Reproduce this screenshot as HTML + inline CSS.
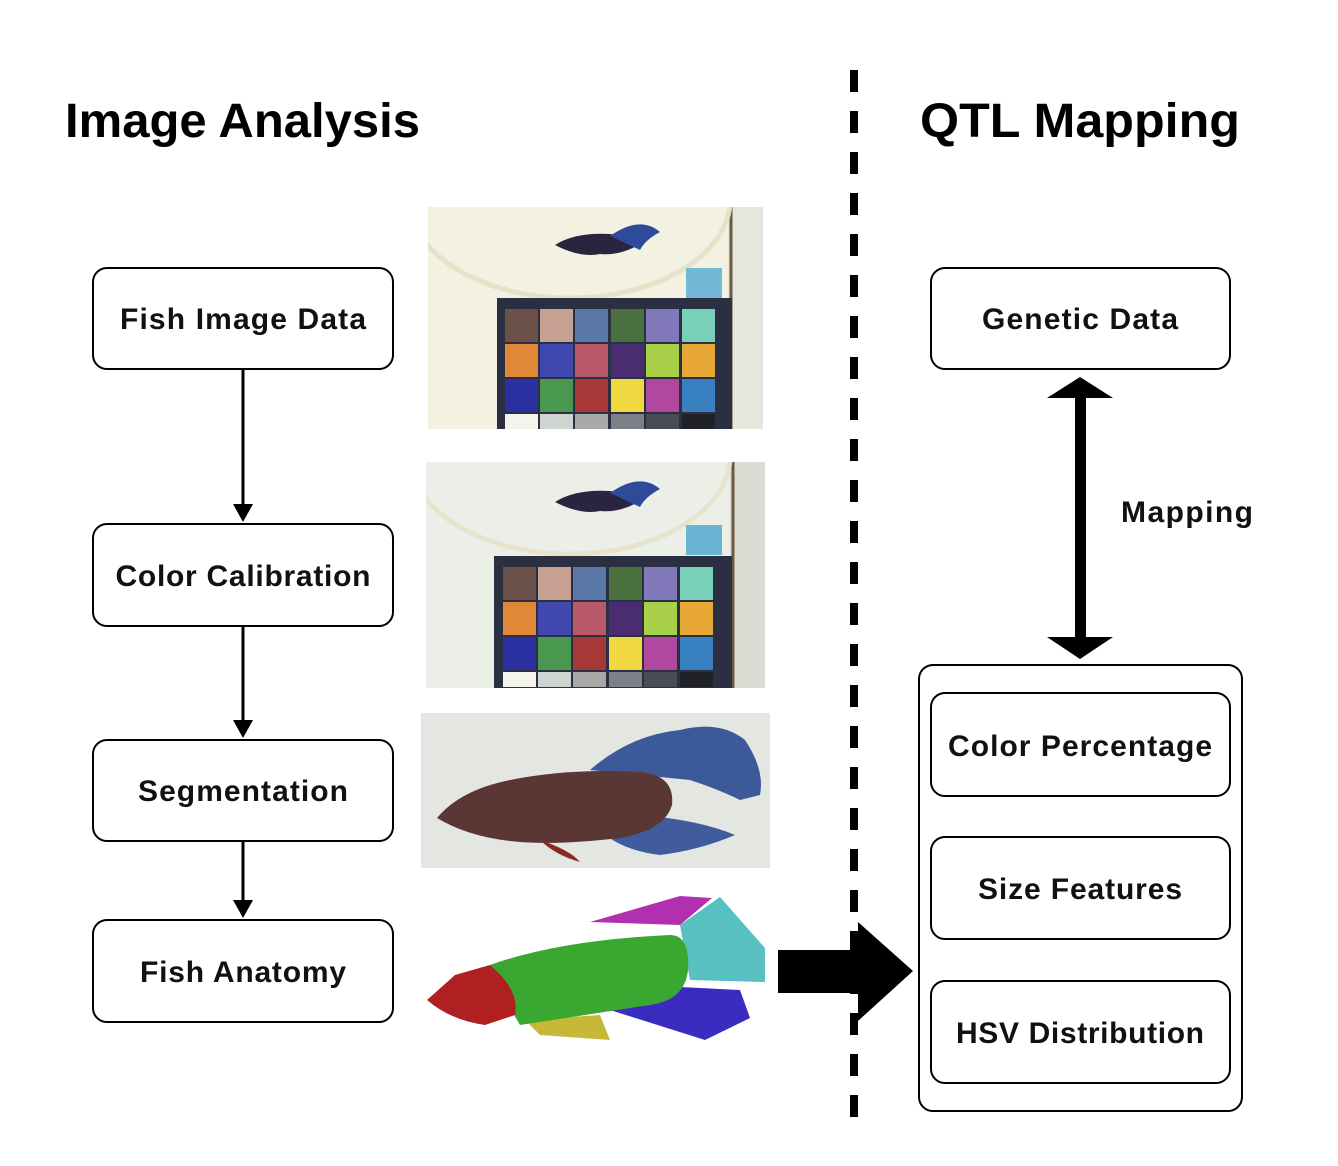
<!DOCTYPE html>
<html><head><meta charset="utf-8"><style>
html,body{margin:0;padding:0;background:#fff;}
svg{display:block}
text{font-family:"Liberation Sans",Arial,sans-serif;}
</style></head><body>
<svg width="1338" height="1166" viewBox="0 0 1338 1166" xmlns="http://www.w3.org/2000/svg">
<defs>
<clipPath id="c1"><rect x="428" y="207" width="335" height="222"/></clipPath>
<clipPath id="c2"><rect x="426" y="462" width="339" height="226"/></clipPath>
<clipPath id="c3"><rect x="421" y="713" width="349" height="155"/></clipPath>
</defs>
<rect width="1338" height="1166" fill="#fff"/>
<text x="65" y="137" font-size="48" font-weight="bold" fill="#000" textLength="355" lengthAdjust="spacingAndGlyphs">Image Analysis</text>
<text x="920" y="137" font-size="48" font-weight="bold" fill="#000" textLength="320" lengthAdjust="spacingAndGlyphs">QTL Mapping</text>
<line x1="854" y1="70" x2="854" y2="1135" stroke="#000" stroke-width="8" stroke-dasharray="22,19"/>

<g fill="#fff" stroke="#000" stroke-width="2">
<rect x="93" y="268" width="300" height="101" rx="14"/>
<rect x="93" y="524" width="300" height="102" rx="14"/>
<rect x="93" y="740" width="300" height="101" rx="14"/>
<rect x="93" y="920" width="300" height="102" rx="14"/>
<rect x="931" y="268" width="299" height="101" rx="14"/>
<rect x="919" y="665" width="323" height="446" rx="14"/>
<rect x="931" y="693" width="299" height="103" rx="14"/>
<rect x="931" y="837" width="299" height="102" rx="14"/>
<rect x="931" y="981" width="299" height="102" rx="14"/>
</g>
<g font-size="30" text-anchor="middle" fill="#111" font-weight="bold" lengthAdjust="spacingAndGlyphs">
<text x="243" y="329" textLength="246">Fish Image Data</text>
<text x="243" y="586" textLength="255">Color Calibration</text>
<text x="243" y="801" textLength="210">Segmentation</text>
<text x="243" y="982" textLength="206">Fish Anatomy</text>
<text x="1080" y="329" textLength="196">Genetic Data</text>
<text x="1080" y="756" textLength="264">Color Percentage</text>
<text x="1080" y="899" textLength="204">Size Features</text>
<text x="1080" y="1043" textLength="248">HSV Distribution</text>
<text x="1187" y="522" textLength="132">Mapping</text>
</g>

<g stroke="#000" stroke-width="3">
<line x1="243" y1="369" x2="243" y2="508"/>
<line x1="243" y1="626" x2="243" y2="724"/>
<line x1="243" y1="841" x2="243" y2="904"/>
</g>
<g fill="#000">
<polygon points="233,504 253,504 243,522"/>
<polygon points="233,720 253,720 243,738"/>
<polygon points="233,900 253,900 243,918"/>
</g>
<rect x="1075" y="396" width="11" height="244" fill="#000"/>
<polygon points="1080,377 1113,398 1047,398" fill="#000"/>
<polygon points="1080,659 1113,637 1047,637" fill="#000"/>
<polygon points="778,950 858,950 858,922 913,971 858,1021 858,993 778,993" fill="#000"/>

<g clip-path="url(#c1)">
<rect x="428" y="207" width="335" height="222" fill="#f2f1e2"/>
<rect x="728" y="207" width="35" height="222" fill="#e6e6dc"/>
<line x1="731" y1="207" x2="731" y2="429" stroke="#6a5a40" stroke-width="3"/>
<ellipse cx="570" cy="200" rx="160" ry="98" fill="none" stroke="#e6e2c8" stroke-width="5"/>
<rect x="686" y="268" width="36" height="30" fill="#74b8d8"/>
<rect x="497" y="298" width="235" height="131" fill="#2b2f42"/>
<path d="M555,245 Q575,232 610,234 Q630,236 640,244 Q620,256 600,254 Q580,258 555,245Z" fill="#2a2440"/>
<path d="M610,236 Q640,215 660,232 Q645,240 640,250 Z" fill="#2e4a9a"/>
</g>
<g clip-path="url(#c2)">
<rect x="426" y="462" width="339" height="226" fill="#eceee8"/>
<rect x="730" y="462" width="35" height="226" fill="#dcdcd4"/>
<line x1="733" y1="462" x2="733" y2="688" stroke="#6a5a40" stroke-width="3"/>
<ellipse cx="570" cy="456" rx="160" ry="98" fill="none" stroke="#e6e4cc" stroke-width="5"/>
<rect x="686" y="525" width="36" height="30" fill="#6ab4d4"/>
<rect x="494" y="556" width="238" height="132" fill="#2b2f42"/>
<path d="M555,502 Q575,489 610,491 Q630,493 640,501 Q620,513 600,511 Q580,515 555,502Z" fill="#2a2440"/>
<path d="M610,493 Q640,472 660,489 Q645,497 640,507 Z" fill="#2e4a9a"/>
</g>
<g id="cells1">
<rect x="505" y="309" width="33" height="33" fill="#6a5048"/><rect x="540" y="309" width="33" height="33" fill="#c6a090"/><rect x="575" y="309" width="33" height="33" fill="#5a78a8"/><rect x="611" y="309" width="33" height="33" fill="#4a7040"/><rect x="646" y="309" width="33" height="33" fill="#8078b8"/><rect x="682" y="309" width="33" height="33" fill="#78d0b8"/>
<rect x="505" y="344" width="33" height="33" fill="#e08838"/><rect x="540" y="344" width="33" height="33" fill="#4048b0"/><rect x="575" y="344" width="33" height="33" fill="#b85868"/><rect x="611" y="344" width="33" height="33" fill="#4a2c70"/><rect x="646" y="344" width="33" height="33" fill="#a8d048"/><rect x="682" y="344" width="33" height="33" fill="#e8a838"/>
<rect x="505" y="379" width="33" height="33" fill="#2a30a0"/><rect x="540" y="379" width="33" height="33" fill="#4a9850"/><rect x="575" y="379" width="33" height="33" fill="#a83838"/><rect x="611" y="379" width="33" height="33" fill="#f0d840"/><rect x="646" y="379" width="33" height="33" fill="#b048a0"/><rect x="682" y="379" width="33" height="33" fill="#3880c0"/>
<rect x="505" y="414" width="33" height="15" fill="#f4f4ec"/><rect x="540" y="414" width="33" height="15" fill="#d0d4d0"/><rect x="575" y="414" width="33" height="15" fill="#a8a8a8"/><rect x="611" y="414" width="33" height="15" fill="#7c8088"/><rect x="646" y="414" width="33" height="15" fill="#484c54"/><rect x="682" y="414" width="33" height="15" fill="#202228"/>
</g>
<use href="#cells1" transform="translate(-2,258)"/>

<g clip-path="url(#c3)">
<rect x="421" y="713" width="349" height="155" fill="#e4e6e2"/>
<path d="M590,770 Q630,735 680,730 Q720,720 745,740 Q765,770 760,795 L740,800 Q720,790 690,780 Z" fill="#3c5a9a"/>
<path d="M640,815 Q700,820 735,835 Q700,850 660,855 Q620,850 600,830Z" fill="#405c9c"/>
<path d="M437,818 Q460,790 510,780 Q570,768 640,772 Q675,775 672,805 Q665,830 620,838 Q560,845 520,842 Q470,838 437,818Z" fill="#5a3634"/>
<path d="M540,840 Q570,850 580,862 Q555,855 540,840Z" fill="#8a2a20"/>
</g>
<path d="M590,922 L680,896 L712,898 L680,925 Z" fill="#b030b0"/>
<path d="M680,925 L720,897 L765,948 L765,982 L690,980 Z" fill="#58c0c0"/>
<path d="M610,1010 L640,985 L740,990 L750,1018 L705,1040 Z" fill="#3a2cc0"/>
<path d="M525,1020 L600,1015 L610,1040 L540,1035Z" fill="#c8b838"/>
<path d="M490,965 Q560,940 670,935 Q690,935 688,970 Q685,1000 650,1005 L520,1025 Q505,1000 490,965Z" fill="#3aa830"/>
<path d="M427,1000 L455,975 L490,965 Q520,990 515,1015 L485,1025 Q450,1020 427,1000Z" fill="#b02020"/>
</svg>
</body></html>
